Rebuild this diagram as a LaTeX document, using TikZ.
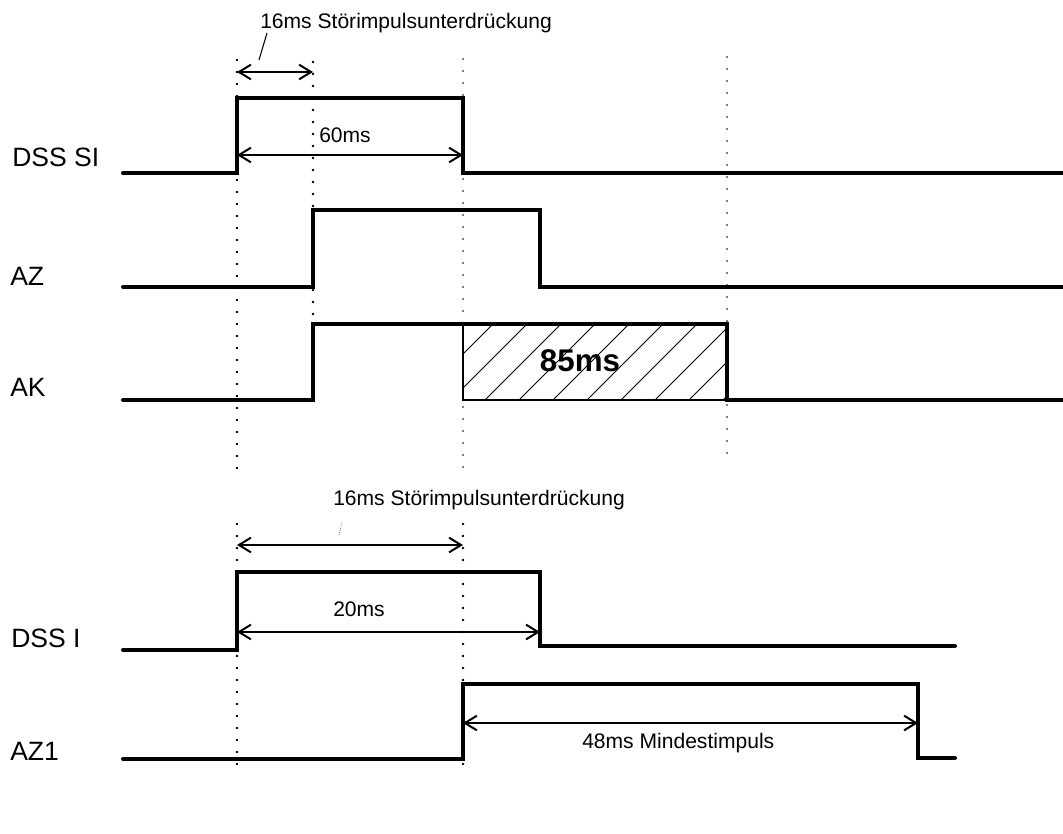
\documentclass[tikz,border=0pt]{standalone}
\usepackage{fontspec}
\setmainfont{Liberation Sans}
\usetikzlibrary{arrows.meta}

\tikzset{
  signal/.style={line width=3pt, line cap=round, line join=miter},
  marker/.style={line width=2pt, dash pattern=on 0pt off 9pt, line cap=round},
  dim/.style={line width=1.1pt, {Straight Barb[length=9pt,width=11pt,line width=1.5pt]}-{Straight Barb[length=9pt,width=11pt,line width=1.5pt]}},
  sig label/.style={anchor=west, inner sep=0pt, font=\fontsize{19.9}{22}\selectfont},
  small label/.style={anchor=base west, inner sep=0pt, font=\fontsize{15.8}{18}\selectfont}
}

\begin{document}
\begin{tikzpicture}[x=0.75pt, y=-0.75pt]
			\useasboundingbox (0,0) rectangle (1063,833);
			% time marks
			\draw [marker] (237,60) -- (237,478);
			\draw [marker] (313,62) -- (313,408);
			\draw [marker, line width=1.3pt] (463,59) -- (463,472);
			\draw [marker, line width=1.3pt] (727,57) -- (727,460);
			\draw [marker] (237,524) -- (237,772);
			\draw [marker] (463,524) -- (463,772);
			% hatched area
			\begin{scope}
			\clip (463,324) rectangle (727,400);
			\foreach \k in {-3,...,7}
				\draw [line width=0.6pt] (485+34*\k,400) -- (485+34*\k+76,324);
			\end{scope}
			\draw [line width=0.8pt] (463,324) rectangle (727,400);
			\node (hatch) [inner sep=0pt, font=\bfseries\fontsize{23.5}{26}\selectfont] at (580,361) {85ms};
			% signals
			\node (dsssi) [sig label] at (12,157) {DSS SI};
			\node (az) [sig label] at (10,276) {AZ};
			\node (ak) [sig label] at (10,387) {AK};
			\node (dssi) [sig label] at (11,638) {DSS I};
			\node (azone) [sig label] at (10,751) {AZ1};
			\draw [signal] (123,173) -- (237,173) -- (237,98) -- (463,98) -- (463,173) -- (1063,173);
			\draw [signal] (123,287) -- (313,287) -- (313,210) -- (540,210) -- (540,287) -- (1063,287);
			\draw [signal] (123,400) -- (313,400) -- (313,324) -- (727,324) -- (727,400) -- (1063,400);
			\draw [signal] (123,650) -- (237,650) -- (237,572) -- (540,572) -- (540,646) -- (955,646);
			\draw [signal] (123,759) -- (463,759) -- (463,684) -- (918,684) -- (918,758) -- (955,758);
			% dimensions
			\coordinate (sa) at (237,72);
			\coordinate (sb) at (313,72);
			\draw [dim] (sa) -- (sb);
			\node (stoer) [small label] at (260,28) {16ms Störimpulsunterdrückung};
			\draw [line width=0.8pt] (267,33) -- (259,60);
			\coordinate (ta) at (237,155);
			\coordinate (tb) at (463,155);
			\draw [dim] (ta) -- (tb);
			\node (sixty) [small label] at (319,142) {60ms};
			\coordinate (ua) at (237,545);
			\coordinate (ub) at (463,545);
			\draw [dim] (ua) -- (ub);
			\node (stoerb) [small label] at (333,505) {16ms Störimpulsunterdrückung};
			\draw [line width=0.6pt, densely dotted, gray] (339,535) -- (342,522);
			\coordinate (va) at (237,632);
			\coordinate (vb) at (540,632);
			\draw [dim] (va) -- (vb);
			\node (twenty) [small label] at (333,616) {20ms};
			\coordinate (wa) at (463,723);
			\coordinate (wb) at (918,723);
			\draw [dim] (wa) -- (wb);
			\node (mindest) [small label] at (582,748) {48ms Mindestimpuls};
\end{tikzpicture}
\end{document}
